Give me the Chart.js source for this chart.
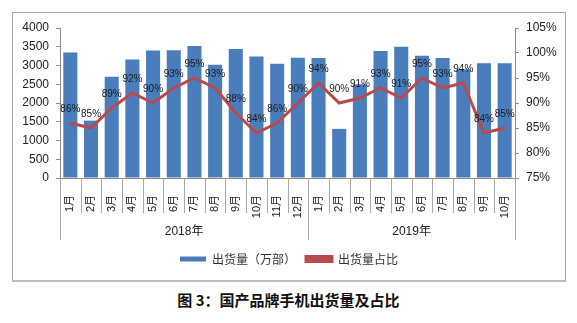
<!DOCTYPE html>
<html>
<head>
<meta charset="utf-8">
<script src="https://cdn.jsdelivr.net/npm/chart.js@4/dist/chart.umd.min.js"></script>
<style>
  html, body { margin: 0; padding: 0; background: #fff; }
  body { width: 577px; height: 323px; position: relative; overflow: hidden; }
  .frame {
    position: absolute; left: 12px; top: 12px; width: 552px; height: 267px;
    border: 1px solid #a6a6a6; border-bottom: 2px solid #bdbdbd;
  }
  .frame canvas { display: block; }
  .caption {
    position: absolute; left: 0; top: 290px; width: 577px; text-align: center;
    font: bold 15px 'Noto Sans CJK SC', sans-serif; line-height: 20px; color: #111;
  }
</style>
</head>
<body>
<div class="frame"><canvas id="shipChart" width="552" height="267"></canvas></div>
<div class="caption">图 3：国产品牌手机出货量及占比</div>
<script>
(function () {
  'use strict';

  // months, grouped by year on the second axis row
  var months = ['1月', '2月', '3月', '4月', '5月', '6月', '7月', '8月', '9月', '10月', '11月', '12月',
                '1月', '2月', '3月', '4月', '5月', '6月', '7月', '8月', '9月', '10月'];
  var years = ['2018年', '2019年'];
  var monthsPerYear = [12, 10];

  // shipments (10k units) and share of total (%)
  var shipments = [3350, 1530, 2700, 3160, 3400, 3410, 3520, 3020, 3440, 3240, 3050, 3210,
                   3200, 1310, 2500, 3390, 3500, 3260, 3200, 2900, 3060, 3060];
  var share = [86, 85, 89, 92, 90, 93, 95, 93, 88, 84, 86, 90,
               94, 90, 91, 93, 91, 95, 93, 94, 84, 85];

  var leftTicks = [0, 4000, 500];
  var rightTicks = [75, 105, 5];

  var axisColor = '#8c8c8c';
  var sepColor = '#a9a9a9';
  var latin = "'Liberation Sans', 'Noto Sans CJK SC', sans-serif";

  Chart.defaults.font.family = latin;
  Chart.defaults.color = '#222';

  // percentage labels above the line + two-level category separators
  var extras = {
    id: 'extras',
    afterDatasetsDraw: function (chart) {
      var ctx = chart.ctx;
      var meta = chart.getDatasetMeta(1);
      ctx.save();
      ctx.font = '10px ' + latin;
      ctx.fillStyle = '#1a1a1a';
      ctx.textAlign = 'center';
      ctx.textBaseline = 'middle';
      meta.data.forEach(function (pt, i) {
        ctx.fillText(share[i] + '%', pt.x, pt.y - 14);
      });
      ctx.restore();
    },
    afterDraw: function (chart) {
      var ctx = chart.ctx;
      var x = chart.scales.x;
      var bottom = chart.chartArea.bottom;
      var n = months.length;
      var edges = [];
      for (var i = 0; i <= n; i++) {
        if (i === 0) edges.push(x.left);
        else if (i === n) edges.push(x.right);
        else edges.push((x.getPixelForTick(i - 1) + x.getPixelForTick(i)) / 2);
      }
      var groupEdges = [0];
      monthsPerYear.forEach(function (c, k) { groupEdges.push(groupEdges[k] + c); });

      ctx.save();
      ctx.strokeStyle = sepColor;
      ctx.lineWidth = 1;
      edges.forEach(function (ex, i) {
        var long = groupEdges.indexOf(i) !== -1;
        var px = Math.round(ex) + 0.5;
        ctx.beginPath();
        ctx.moveTo(px, bottom);
        ctx.lineTo(px, bottom + (long ? 62 : 35));
        ctx.stroke();
      });

      ctx.font = '12px ' + latin;
      ctx.fillStyle = '#222';
      ctx.textAlign = 'center';
      ctx.textBaseline = 'middle';
      years.forEach(function (y, k) {
        var cx = (edges[groupEdges[k]] + edges[groupEdges[k + 1]]) / 2;
        ctx.fillText(y, cx, bottom + 54);
      });
      ctx.restore();
    }
  };

  new Chart(document.getElementById('shipChart'), {
    data: {
      labels: months,
      datasets: [{
        type: 'bar',
        label: '出货量（万部）',
        data: shipments,
        backgroundColor: '#4a7dbc',
        borderWidth: 0,
        barPercentage: 0.68,
        categoryPercentage: 1,
        yAxisID: 'y',
        order: 2
      }, {
        type: 'line',
        label: '出货量占比',
        data: share,
        borderColor: '#b94a4c',
        backgroundColor: '#b94a4c',
        borderWidth: 3,
        tension: 0,
        pointRadius: 0,
        yAxisID: 'y1',
        order: 1
      }]
    },
    options: {
      responsive: false,
      animation: false,
      layout: { padding: { top: 15, bottom: 5, left: 0, right: 0 } },
      plugins: {
        tooltip: { enabled: false },
        legend: {
          position: 'bottom',
          labels: {
            boxWidth: 26,
            boxHeight: 5,
            padding: 10,
            color: '#333',
            font: { size: 12, family: "'Noto Sans CJK SC', sans-serif" },
            sort: function (a, b) { return a.datasetIndex - b.datasetIndex; }
          }
        }
      },
      scales: {
        x: {
          offset: true,
          grid: { display: false },
          border: { display: true, color: axisColor },
          ticks: {
            autoSkip: false,
            maxRotation: 90,
            minRotation: 90,
            padding: 9,
            font: { size: 11 }
          },
          afterFit: function (s) { s.height = 65; }
        },
        y: {
          position: 'left',
          min: leftTicks[0],
          max: leftTicks[1],
          grid: { drawOnChartArea: false, tickLength: 4, color: axisColor },
          border: { color: axisColor },
          ticks: {
            stepSize: leftTicks[2],
            padding: 7,
            font: { size: 12 },
            callback: function (v) { return String(v); }
          },
          afterFit: function (s) { s.width = 47; }
        },
        y1: {
          position: 'right',
          min: rightTicks[0],
          max: rightTicks[1],
          grid: { drawOnChartArea: false, tickLength: 4, color: axisColor },
          border: { color: axisColor },
          ticks: {
            stepSize: rightTicks[2],
            padding: 7,
            font: { size: 12 },
            callback: function (v) { return v + '%'; }
          },
          afterFit: function (s) { s.width = 50; }
        }
      }
    },
    plugins: [extras]
  });
})();
</script>
</body>
</html>
